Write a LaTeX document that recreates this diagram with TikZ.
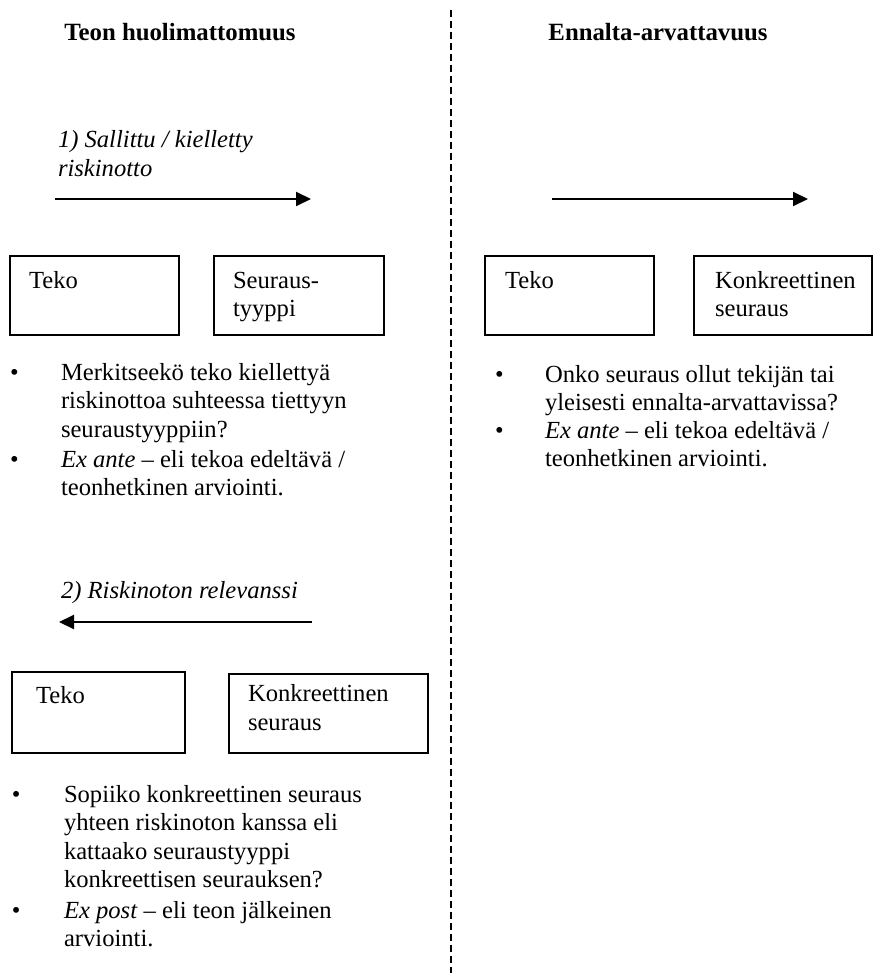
\documentclass[tikz,border=0pt]{standalone}
\usepackage{fontspec}
\setmainfont{Liberation Serif}
\usetikzlibrary{arrows.meta}
\begin{document}
\begin{tikzpicture}[x=1pt,y=-1pt,
  every node/.style={inner sep=0pt, outer sep=0pt, font=\fontsize{24.6}{28.6}\selectfont},
  box/.style n args={2}{draw, line width=1.3pt, anchor=north west, minimum width=#1pt, minimum height=#2pt},
  txt/.style={anchor=base west, align=left},
  ttl/.style={anchor=base, font=\fontsize{24.8}{29}\selectfont\bfseries},
  arr/.style={line width=2pt, -{Triangle[length=15pt,width=14pt]}},
  divider/.style={line width=1.2pt, dash pattern=on 7pt off 4pt}]
\useasboundingbox (0,0) rectangle (873,973);
% divider
\coordinate (d1) at (451,10);
\coordinate (d2) at (451,973);
\draw[divider] (d1) -- (d2);
% titles
\node[ttl] (tl) at (180,41) {Teon huolimattomuus};
\node[ttl] (tr) at (658,41) {Ennalta-arvattavuus};
% left part 1 (multi-line nodes: anchor is the baseline of the last line)
\node[txt, font=\fontsize{24.6}{28.6}\selectfont\itshape] (l1) at (58,176.6) {1) Sallittu / kielletty\\riskinotto};
\coordinate (a1s) at (55,199);
\coordinate (a1e) at (311,199);
\draw[arr] (a1s) -- (a1e);
\node[box={169}{79}] (b1) at (10,256) {};
\node[txt] at (29,288) {Teko};
\node[box={170}{79}] (b2) at (214,256) {};
\node[txt] at (233,316.6) {Seuraus-\\tyyppi};
\node[txt] (bu1) at (10,380) {\textbullet};
\node[txt] (q1) at (61,437.2) {Merkitseekö teko kiellettyä\\riskinottoa suhteessa tiettyyn\\seuraustyyppiin?};
\node[txt] (bu2) at (10,467) {\textbullet};
\node[txt] (q2) at (61,495.6) {\textit{Ex ante} – eli tekoa edeltävä /\\teonhetkinen arviointi.};
% left part 2
\node[txt, font=\fontsize{24.6}{28.6}\selectfont\itshape] (l2) at (61,598) {2) Riskinoton relevanssi};
\coordinate (a2s) at (312,622);
\coordinate (a2e) at (59,622);
\draw[arr] (a2s) -- (a2e);
\node[box={173}{81}] (b3) at (12,672) {};
\node[txt] at (36,703) {Teko};
\node[box={199}{79}] (b4) at (229,674) {};
\node[txt] at (248,730) {Konkreettinen\\seuraus};
\node[txt] (bu3) at (12,802) {\textbullet};
\node[txt] (q3) at (64,887.8) {Sopiiko konkreettinen seuraus\\yhteen riskinoton kanssa eli\\kattaako seuraustyyppi\\konkreettisen seurauksen?};
\node[txt] (bu4) at (12,918) {\textbullet};
\node[txt] (q4) at (64,946.6) {\textit{Ex post} – eli teon jälkeinen\\arviointi.};
% right part
\coordinate (a3s) at (552,199);
\coordinate (a3e) at (808,199);
\draw[arr] (a3s) -- (a3e);
\node[box={169}{79}] (b5) at (485,256) {};
\node[txt] at (505,288) {Teko};
\node[box={178}{79}] (b6) at (694,256) {};
\node[txt] at (715,316.6) {Konkreettinen\\seuraus};
\node[txt] (bu5) at (495,382) {\textbullet};
\node[txt] (q5) at (545,410.6) {Onko seuraus ollut tekijän tai\\yleisesti ennalta-arvattavissa?};
\node[txt] (bu6) at (495,438) {\textbullet};
\node[txt] (q6) at (545,466.6) {\textit{Ex ante} – eli tekoa edeltävä /\\teonhetkinen arviointi.};
\end{tikzpicture}
\end{document}
